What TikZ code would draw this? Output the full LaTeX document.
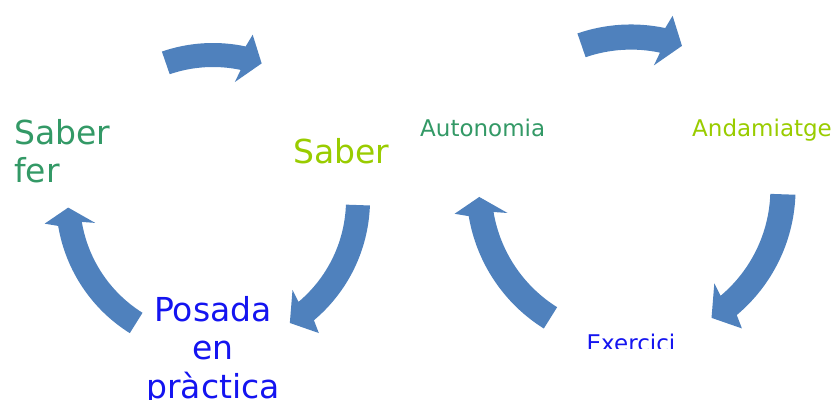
\documentclass[tikz,border=0pt]{standalone}
\usepackage{fontspec}
\setmainfont{DejaVu Sans}
\definecolor{arrowblue}{RGB}{79,129,189}
\definecolor{fergreen}{RGB}{51,153,102}
\definecolor{limegreen}{RGB}{153,204,0}
\definecolor{posblue}{RGB}{20,20,240}
\tikzset{
  arrowfill/.style={fill=arrowblue},
  bigtext/.style={font=\fontsize{33}{38.5}\selectfont, inner sep=0pt},
  smalltext/.style={font=\fontsize{23}{28}\selectfont, inner sep=0pt}
}
\newcommand{\BlockArc}[3]{%
  \fill[arrowfill] (#1:157) arc[start angle=#1, end angle=#2, radius=157]
    -- (#2-1.5:170) -- (#3:145) -- (#2+1.5:120) -- (#2:133)
    arc[start angle=#2, end angle=#1, radius=133] -- cycle;}

\begin{document}
\begin{tikzpicture}[x=1pt,y=1pt]
    \useasboundingbox (0,0) rectangle (838,399);
    \coordinate (cL) at (213,199);
    \coordinate (cR) at (631,210);
    \node[bigtext, text=fergreen, align=left, anchor=north west] (saberfer) at (14,280) {Saber\\fer};
    \node[bigtext, text=limegreen, anchor=north west] (saber) at (293,261) {Saber};
    \node[bigtext, text=posblue, align=center, anchor=north] (posada) at (213,103) {Posada\\en\\pràctica};
    \node[smalltext, text=fergreen, anchor=north west] (autonomia) at (420,280) {Autonomia};
    \node[smalltext, text=limegreen, anchor=north west] (andamiatge) at (692,280) {Andamiatge};
    \begin{scope}
      \clip (560,50) rectangle (720,80);
      \node[smalltext, text=posblue, anchor=north] (exercici) at (631,65) {Exercici};
    \end{scope}
    \begin{scope}[shift={(cL)}]
      \BlockArc{109}{78}{70.4}
      \BlockArc{-2}{-50}{-58}
      \BlockArc{238}{189.5}{183}
    \end{scope}
    \begin{scope}[shift={(cR)}, scale=1.048]
      \BlockArc{109}{78}{70.4}
      \BlockArc{-2}{-50}{-58}
      \BlockArc{238}{189.5}{183}
    \end{scope}
\end{tikzpicture}
\end{document}
